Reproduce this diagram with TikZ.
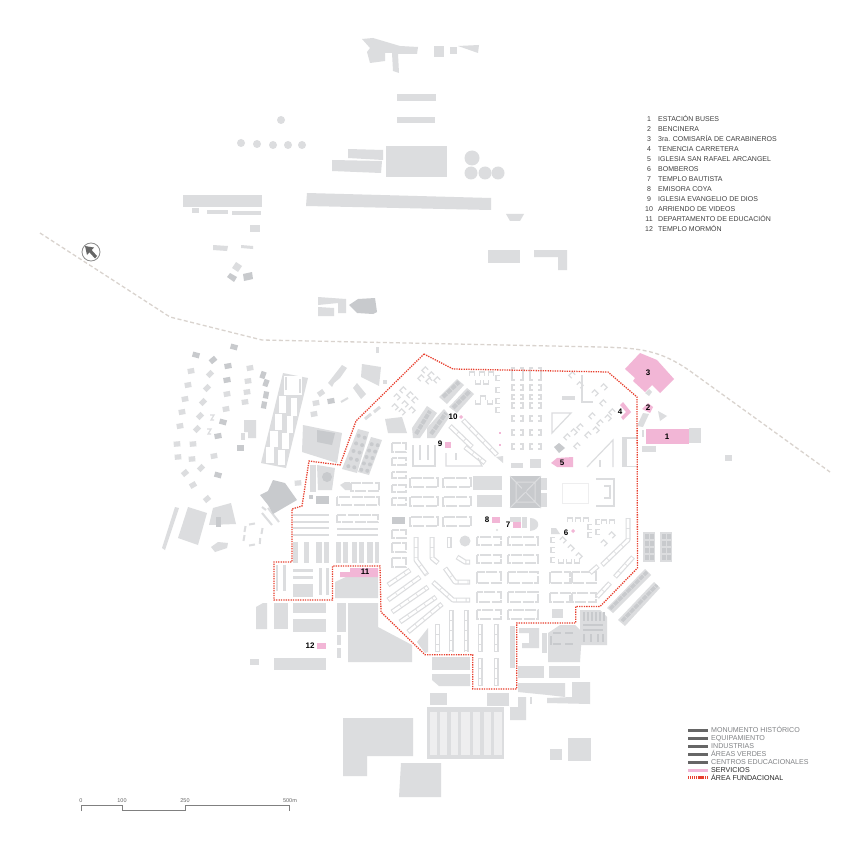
\documentclass[tikz,border=0pt]{standalone}
\usepackage{fontspec}
\usetikzlibrary{calc}
\setmainfont{Liberation Sans}
\definecolor{bldc}{HTML}{DCDDDF}
\definecolor{darkc}{HTML}{C8CACD}
\definecolor{ltc}{HTML}{EEEEEF}
\definecolor{pinkc}{HTML}{F2B6D6}
\definecolor{redc}{HTML}{E8402F}
\definecolor{trackc}{HTML}{D9D3CE}
\definecolor{leg}{HTML}{808285}
\tikzset{
  bld/.style={fill=bldc},
  drk/.style={fill=darkc},
  svc/.style={fill=pinkc},
  sa/.style={draw=bldc,line width=5pt,line join=round},
  sb/.style={draw=white,line width=2.6pt,line join=round,dash pattern=on 9pt off 0.9pt,shorten <=0.9pt,shorten >=0.9pt},
  blkst/.style={draw=bldc,line width=1.15pt,dash pattern=on 11pt off 1.4pt},
  ust/.style={draw=bldc,line width=1.2pt},
  boundary/.style={draw=redc,line width=1.3pt,dash pattern=on 1.3pt off 1.1pt},
  track/.style={draw=trackc,line width=1.3pt,dash pattern=on 4pt off 2.5pt},
  num/.style={font=\fontsize{8}{9}\selectfont\bfseries,text=black,inner sep=0pt},
  item/.style={font=\fontsize{7}{8}\selectfont,text=black!75,inner sep=0pt,anchor=base},
  legtxt/.style={font=\fontsize{7.1}{8}\selectfont,text=leg,inner sep=0pt,anchor=base west},
  legtxk/.style={font=\fontsize{7.1}{8}\selectfont,text=black!85,inner sep=0pt,anchor=base west},
  scl/.style={font=\fontsize{5.5}{6}\selectfont,text=black!60,inner sep=0pt},
}
\newcommand\stp[1]{\draw[sa] #1; \draw[sb] #1;}
\begin{document}
\begin{tikzpicture}[x=1pt,y=-1pt]
\useasboundingbox (0,0) rectangle (850,850);
\fill[white] (0,0) rectangle (850,850);
% railway
\coordinate (tr1) at (40,233);
\coordinate (tr2) at (170,317);
\coordinate (tr3) at (262,340);
\coordinate (tr4) at (640,348);
\coordinate (tr5) at (830,472);
\draw[track] (tr1) -- (tr2) -- (tr3) -- (600,347) .. controls (tr4) and (660,350) .. (690,371) -- (tr5);
% north arrow
\draw[draw=black!45,line width=0.8pt] (91,252) circle (9);
\fill[black!60] (85,246) -- (94,247.5) -- (91.6,250) -- (97,256) -- (95,258.5) -- (89.4,252.3) -- (87,255) -- cycle;
% top buildings
\fill[bld] (362,39)--(373,38)--(400,46)--(418,47)--(417,54)--(398,54)--(399,73)--(393,71)--(392,53)--(385,53)--(385,61)--(370,63)--(367,52)--(370,48)--cycle;
\foreach \a/\b/\c/\d in {434/46/444/57,450/47/457/54,397/94/436/101,397/117/435/123,386/146/447/177,183/195/262/207,192/208/199/213,207/210/228/214,232/211/261/215,250/225/260/232,488/250/520/263}
  \fill[bld] (\a,\b) rectangle (\c,\d);
\fill[bld] (458,46)--(479,45)--(478,53)--cycle;
\foreach \x/\y in {281/120,241/143,257/144,273/145,288/145,302/145}
  \fill[bld] (\x,\y) circle (4);
\foreach \x/\y/\r in {472/158/7.5,471/173/6.5,485/173/6.5,498/173/6.5}
  \fill[bld] (\x,\y) circle (\r);
\fill[bld] (348,149)--(383,150)--(383,160)--(348,158)--cycle;
\fill[bld] (332,160)--(382,161)--(381,173)--(332,171)--cycle;
\fill[bld] (307,193)--(491,198)--(491,210)--(306,206)--cycle;
\fill[bld] (213,245)--(228,246)--(227,251)--(213,250)--cycle;
\fill[bld] (241,245)--(253,246)--(253,249)--(241,248)--cycle;
\fill[bld] (232,268)--(236,262)--(242,266)--(238,272)--cycle;
\fill[drk] (227,277)--(230,273)--(237,277)--(234,282)--cycle;
\fill[drk] (243,274)--(252,272)--(253,279)--(244,281)--cycle;
\fill[bld] (318,297)--(346,299)--(346,313)--(338,313)--(338,303)--(318,305)--cycle;
\fill[bld] (318,307)--(334,308)--(334,316)--(318,316)--cycle;
\fill[drk] (349,305)--(358,299)--(375,298)--(377,312)--(373,314)--(357,313)--cycle;
\fill[bld] (506,214)--(524,214)--(520,221)--(510,221)--cycle;
\fill[bld] (534,250)--(567,250)--(567,270)--(558,270)--(558,257)--(534,257)--cycle;
\fill[bld] (376,347) rectangle (379,353);
% scattered houses, west
\foreach \x/\y/\r in {191/371/10,188/385/10,185/399/10,182/412/10,180/426/10,177/444/5,193/444/5,178/457/5,192/459/5,214/456/10,185/473/40,201/468/45,193/485/30,207/499/40,210/374/45,207/388/45,203/402/45,200/416/45,197/429/45,227/394/10,226/409/10,250/368/10,248/381/8,247/392/8,245/402/8,321/393/35,316/403/10,314/414/10,298/483/5}
  \fill[bld,rotate around={\r:(\x,\y)}] (\x-3.3,\y-2.6) rectangle (\x+3.3,\y+2.6);
\foreach \x/\y/\r in {234/347/-15,196/355/-15,213/360/40,228/366/10,227/380/10,223/422/-15,218/436/10,240/448/0,218/475/-15,263/375/70,266/383/70,266/395/80,264/405/80,331/401/10}
  \fill[drk,rotate around={\r:(\x,\y)}] (\x-3.5,\y-2.6) rectangle (\x+3.5,\y+2.6);
\fill[bld] (244,420)--(256,420)--(256,438)--(248,438)--(248,432)--(244,432)--cycle;
\fill[bld] (241,433) rectangle (245,440);
\draw[ust] (210,415)--(214,415)--(211,420)--(214,420);
\draw[ust] (207,429)--(211,429)--(208,434)--(211,434);
% lower west
\fill[bld] (175,507)--(179,508)--(165,550)--(162,548)--cycle;
\fill[bld] (188,507)--(207,513)--(198,545)--(178,538)--cycle;
\fill[bld] (213,508)--(231,503)--(236,524)--(209,525)--cycle;
\fill[drk] (216,517) rectangle (221,527);
\fill[bld] (211,547)--(218,542)--(228,543)--(227,548)--(215,552)--cycle;
\foreach \x/\y/\r in {252/524/10,262/531/80,260/541/85,252/545/10,244/538/80,245/529/80}
  \fill[bld,rotate around={\r:(\x,\y)}] (\x-3,\y-1) rectangle (\x+3,\y+1);
\draw[draw=bldc,line width=2pt] (262,513)--(272,525);
\draw[draw=bldc,line width=2pt] (268,508)--(279,522);
\draw[draw=bldc,line width=2pt] (262,507)--(266,510);
% big dark building
\fill[drk] (260,495)--(268,491)--(273,480)--(285,483)--(297,500)--(273,514)--(268,505)--cycle;
% grid building
\begin{scope}[shift={(283,373)},x={(25pt,-5pt)},y={(-22pt,-90pt)}]
  \fill[bld] (0,0)--(1,0)--(1,1)--(0,1)--cycle;
  \fill[white] (.06,.03) rectangle (.94,.19);
  \fill[bld] (.2,.03) rectangle (.25,.18);
  \fill[bld] (.75,.03) rectangle (.8,.18);
  \foreach \a/\b in {.25/.42,.45/.61,.64/.79,.82/.97}{
    \fill[white] (.06,\a) rectangle (.48,\b);
    \fill[white] (.54,\a) rectangle (.94,\b);
  }
\end{scope}
% mid-west buildings
\fill[bld] (303,425)--(342,433)--(337,463)--(302,452)--cycle;
\fill[drk] (317,430)--(335,433)--(332,445)--(317,442)--cycle;
\fill[bld] (358,429)--(369,432)--(357,473)--(342,469)--cycle;
\fill[bld] (371,437)--(382,440)--(369,475)--(358,472)--cycle;
\foreach \t in {.1,.3,.5,.7,.9}{
  \fill[darkc] ($(360,432)!\t!(347,470)$) circle (2);
  \fill[darkc] ($(366,434)!\t!(353,471)$) circle (2);
  \fill[darkc] ($(373,441)!\t!(360,473)$) circle (2);
  \fill[darkc] ($(379,442)!\t!(366,474)$) circle (2);
}
\fill[bld] (362,364)--(381,367)--(379,386)--(361,377)--cycle;
\fill[bld] (357,383)--(366,394)--(361,399)--(353,388)--cycle;
\fill[bld] (328,383)--(342,365)--(347,368)--(340,378)--(334,383)--(332,387)--cycle;
\fill[bld] (385,419)--(402,417)--(407,433)--(388,433)--cycle;
\fill[bld] (383,380) rectangle (387,384);
\draw[draw=bldc,line width=2pt] (341,402)--(348,398);
\draw[draw=bldc,line width=3pt] (365,419)--(371,414);
\draw[draw=bldc,line width=3pt] (374,412)--(380,407);
\fill[bld] (340,485)--(345,482)--(350,482)--(350,490)--(345,490)--cycle;
\fill[bld] (317,465)--(335,468)--(332,490)--(318,490)--cycle;
\fill[darkc] (327,477) circle (5);
\fill[bld] (310,465) rectangle (316,492);
\fill[drk] (316,496) rectangle (329,504);
\fill[drk] (309,495) rectangle (313,499);
% strips south of the dark building
\foreach \y in {515,522,528,535} \draw[draw=bldc,line width=1.5pt] (293,\y)--(329,\y);
\draw[blkst] (337,515) rectangle (378,522);
\foreach \y in {529,535} \draw[draw=bldc,line width=1.5pt] (337,\y)--(378,\y);
\foreach \a/\b in {293/298,304/309,316/322,324/329,336/341,343/348,352/357,359/364,367/373,375/379}
  \fill[bld] (\a,542) rectangle (\b,563);
% blocks, west rows
\foreach \a/\b in {351/483,337/497}
  \draw[blkst] (\a,\b) rectangle (379,\b+8);
\foreach \a/\b in {443/452,458/465,472/478,485/492,498/505,530/538,543/552,558/567}
  \draw[blkst] (392,\a) rectangle (406,\b);
\fill[drk] (392,517) rectangle (405,524);
% enclosed area
\foreach \a/\b in {276/278,283/286}
  \fill[bld] (\a,565) rectangle (\b,591);
\foreach \a/\b in {319/322,326/329}
  \fill[bld] (\a,568) rectangle (\b,595);
\fill[bld] (293,569) rectangle (313,572);
\fill[bld] (293,576) rectangle (313,579);
\fill[bld] (293,584) rectangle (313,597);
\fill[bld] (335,582)--(348,576)--(378,577)--(378,598)--(335,598)--cycle;
% south-west blocks
\fill[bld] (256,607)--(263,603)--(267,603)--(267,629)--(256,629)--cycle;
\foreach \a/\b/\c/\d in {274/603/288/629,293/603/326/613,293/619/326/632,337/603/346/632,337/635/341/645,337/648/341/658,274/658/326/670,250/659/259/665,432/657/470/670}
  \fill[bld] (\a,\b) rectangle (\c,\d);
\fill[bld] (348,603)--(378,603)--(378,627)--(412,645)--(412,662)--(348,662)--cycle;
\fill[bld] (417,642)--(428,628)--(428,652)--(425,653)--cycle;
\fill[bld] (432,674)--(470,674)--(470,686)--(439,686)--(432,680)--cycle;
% south
\fill[bld] (510,626) rectangle (515,668);
\fill[bld] (519,628)--(539,628)--(539,648)--(522,648)--(522,643)--(529,643)--(529,633)--(519,633)--cycle;
\fill[bld] (542,633) rectangle (547,653);
\fill[bld] (560,625)--(575,625)--(582,632)--(580,662)--(548,662)--(548,633)--cycle;
\foreach \x in {553,565} \fill[darkc] (\x,632) rectangle (\x+8,634);
\foreach \x in {553,565} \fill[darkc] (\x,643) rectangle (\x+8,645);
\fill[darkc] (550,636) rectangle (552,645);
\fill[bld] (580,610)--(600,610)--(607,617)--(607,645)--(580,645)--cycle;
\foreach \x in {583,587,591,595,599,603} \fill[darkc] (\x,612) rectangle (\x+2,621);
\foreach \y in {624,629} \fill[darkc] (583,\y) rectangle (603,\y+2);
\foreach \x in {583,590,597,602} \fill[darkc] (\x,634) rectangle (\x+2,642);
\foreach \a/\b/\c/\d in {518/666/544/678,549/666/580/678,430/693/447/705,487/693/509/706,552/609/563/618,530/697/532/704,550/749/562/760,568/738/591/761}
  \fill[bld] (\a,\b) rectangle (\c,\d);
\fill[bld] (518,683)--(565,683)--(565,697)--(548,695)--(518,692)--cycle;
\fill[bld] (547,698)--(572,697)--(572,682)--(590,682)--(590,704)--(547,703)--cycle;
\fill[bld] (518,697)--(526,697)--(526,720)--(510,720)--(510,707)--(518,707)--cycle;
\fill[bld] (427,707) rectangle (504,759);
\foreach \a/\b in {430/437,440/447,451/458,461/470,473/480,484/491,494/502}
  \fill[ltc] (\a,712) rectangle (\b,755);
\fill[bld] (343,718)--(413,718)--(413,756)--(367,756)--(367,776)--(343,776)--cycle;
\fill[bld] (401,763)--(441,763)--(441,797)--(399,797)--cycle;
% core: large solids
\fill[darkc] (510,476) rectangle (541,508);
\draw[draw=bldc,line width=1pt] (510,476)--(541,508) (541,476)--(510,508) (516,482) rectangle (535,502);
\fill[drk] (524,490) circle (2.5);
\foreach \a/\b/\c/\d in {541/478/547/490,541/493/547/507,473/476/502/490,477/495/502/507,511/463/523/468,530/459/541/468,510/517/521/522,522/517/527/528,562/396/575/400,642/430/644/437,642/446/656/452,725/455/732/461,689/428/701/443,552/609/563/618}
  \fill[bld] (\a,\b) rectangle (\c,\d);
\fill[drk] (554,447)--(559,443)--(565,448)--(559,453)--cycle;
\fill[bld] (496,457)--(503,456)--(503,463)--cycle;
\fill[bld] (465,541) circle (5.5);
\fill[bld] (530,518) .. controls (540,518) and (542,530) .. (530,531) -- cycle;
\fill[bld] (497,530) circle (1.2);
% dark diagonal blocks
\fill[bld] (439,397)--(457,379)--(464,385)--(447,404)--cycle;
\fill[bld] (449,407)--(467,388)--(474,394)--(457,413)--cycle;
\fill[bld] (412,428)--(427,406)--(437,413)--(420,438)--(413,438)--cycle;
\fill[bld] (427,428)--(444,409)--(450,416)--(435,438)--(427,438)--cycle;
\draw[draw=darkc,line width=4pt,dash pattern=on 5pt off 1pt] (443,397)--(459,382);
\draw[draw=darkc,line width=4pt,dash pattern=on 5pt off 1pt] (453,408)--(470,391);
\draw[draw=darkc,line width=4pt,dash pattern=on 5pt off 1pt] (416,434)--(430,411);
\draw[draw=darkc,line width=4pt,dash pattern=on 5pt off 1pt] (431,434)--(446,413);
% blocks outside, east and south-east
\fill[bld] (607,608)--(645,569)--(651,575)--(613,613)--cycle;
\fill[bld] (618,620)--(654,582)--(660,588)--(625,626)--cycle;
\draw[draw=darkc,line width=3.5pt,dash pattern=on 5pt off 1pt] (610,609)--(647,572);
\draw[draw=darkc,line width=3.5pt,dash pattern=on 5pt off 1pt] (622,621)--(657,585);
\foreach \x in {643,660}{
  \fill[bld] (\x,532) rectangle (\x+12,562);
  \foreach \y in {534,541,548,555}{
    \fill[darkc] (\x+1.5,\y) rectangle (\x+5.5,\y+5);
    \fill[darkc] (\x+6.5,\y) rectangle (\x+10.5,\y+5);
  }
}
\fill[bld] (643,413)--(649,414)--(643,427)--(637,426)--cycle;
\fill[bld] (658,411)--(667,416)--(660,421)--cycle;
\fill[bld] (649,389)--(652,392)--(649,396)--(645,393)--cycle;
% block rows centre-west
\foreach \y/\h in {478/9,497/9,517/9}{
  \draw[blkst] (410,\y) rectangle (438,\y+\h);
  \draw[blkst] (443,\y) rectangle (471,\y+\h);
}
% south rows
\foreach \y/\h in {537/8,555/8,572/11,592/10,610/9}{
  \draw[blkst] (477,\y) rectangle (501,\y+\h);
  \draw[blkst] (508,\y) rectangle (538,\y+\h);
}
\foreach \y/\h in {572/11,593/9}{
  \draw[blkst] (550,\y) rectangle (570,\y+\h);
  \draw[blkst] (572,\y) rectangle (596,\y+\h);
}
% vertical strips
\foreach \a/\b in {451/610,466/610,437.5/624,480/624,496/624}{
  \stp{(\a,\b)--(\a,652)}
}
\foreach \a in {480,496} {\stp{(\a,658)--(\a,686)}}
% diagonal strips
\stp{(388,585)--(410,570)}
\stp{(388,600)--(420,577)}
\stp{(392,612)--(428,587)}
\stp{(400,622)--(436,597)}
\stp{(408,632)--(442,604)}
\stp{(416,537)--(416,560)--(427,575)}
\stp{(432,537)--(432,558)--(438,563)}
\stp{(449,537)--(449,548)}
\stp{(445,568)--(455,582)--(470,582)}
\stp{(433,582)--(453,600)--(470,600)}
\stp{(457,557)--(465,562)--(470,562)}
\stp{(628,518)--(628,540)--(602,565)}
\stp{(633,557)--(615,577)}
\stp{(610,583)--(597,597)}
\stp{(590,573)--(598,566)}
% north-centre brackets
\foreach \y/\h in {368/12,385/5,395/4,403/5,416/5,430/5,444/5}{
  \draw[ust] (515,\y)--(512,\y)--(512,\y+\h)--(515,\y+\h);
  \draw[ust] (520,\y)--(523,\y)--(523,\y+\h)--(520,\y+\h);
  \draw[ust] (533,\y)--(530,\y)--(530,\y+\h)--(533,\y+\h);
  \draw[ust] (538,\y)--(541,\y)--(541,\y+\h)--(538,\y+\h);
}
% small U shapes
\foreach \x/\y/\r in {472/374/0,482/374/0,491/374/0,478/382/180,486/382/180,483/398/0,478/402/180,490/402/180,498/378/90,498/390/90,498/401/90,498/410/90,
  425/370/45,431/375/45,437/380/45,429/381/45,421/378/45,
  403/390/45,410/395/45,415/400/45,397/397/-45,405/404/-45,412/410/-45,395/407/-45,402/412/-45,
  567/437/45,577/446/45,588/435/45,580/427/45,600/423/45,592/416/45,612/412/45,603/403/45,574/432/-45,596/430/-45,608/418/-45,
  572/375/45,580/385/-45,595/393/-45,604/387/-45,
  570/520/0,578/520/0,586/520/0,590/527/90,590/535/90,
  598/522/90,598/532/90,604/522/0,612/522/0,604/543/-45,612/535/-45,
  553/540/90,553/550/90,553/560/90,561/561/180,569/561/180,577/561/180,
  563/540/-45,571/548/-45,579/556/-45}
  \draw[ust,rotate around={\r:(\x,\y)}] (\x-2.5,\y+2)--(\x-2.5,\y-2)--(\x+2.5,\y-2)--(\x+2.5,\y+2);
% west quarter combs
\stp{(463,420)--(497,455)}
\stp{(450,426)--(472,447)}
\stp{(465,447)--(485,463)}
\draw[ust] (413,445)--(413,466)--(435,466)--(435,445);
\draw[ust] (420,445)--(420,460);
\draw[ust] (428,445)--(428,460);
\draw[ust] (446,453)--(446,466)--(482,466)--(478,458);
\draw[ust] (456,453)--(456,460);
% triangles of blocks
\draw[ust] (552,413)--(571,413)--(552,433)--cycle;
\draw[ust] (587,467)--(613,440)--(613,467);
\draw[ust] (600,460)--(600,467);
\draw[ust] (582,375)--(582,402)--(593,402);
\fill[bld] (551,528)--(556,528)--(560,534)--(551,534)--cycle;
\draw[draw=bldc,line width=5pt] (624.5,437)--(624.5,467);
\draw[draw=bldc,line width=1.5pt] (622,438)--(637,438) (622,466.5)--(637,466.5);
\draw[draw=ltc,line width=0.6pt] (562,483) rectangle (588,503);
\draw[ust] (596,479)--(614,479)--(614,506)--(596,506);
\draw[ust] (604,486)--(610,486)--(610,498)--(604,498);
% services
\fill[svc] (640,353)--(657,360)--(674,379)--(660,393)--(652,385)--(645,392)--(633,381)--(635,378)--(625,369)--cycle;
\fill[svc] (646,429) rectangle (689,444);
\fill[svc] (648,403)--(653,407)--(650,413)--(642,409)--cycle;
\fill[svc] (620,405)--(623,402)--(631,412)--(623,420)--(621,417)--(626,412)--cycle;
\fill[svc] (551,463)--(557,458)--(573,457)--(573,467)--(557,467)--cycle;
\fill[svc] (445,442) rectangle (451,448);
\fill[svc] (461,415)--(463,417)--(461,419)--(459,417)--cycle;
\fill[svc] (492,517) rectangle (500,523);
\fill[svc] (513,522) rectangle (521,528);
\fill[svc] (573,529)--(575,531)--(573,533)--(571,531)--cycle;
\fill[svc] (340,572)--(350,572)--(350,568)--(378,568)--(378,577)--(340,577)--cycle;
\fill[svc] (317,643) rectangle (326,649);
\fill[svc] (499,432) rectangle (501,434);
\fill[svc] (499,444) rectangle (501,446);
% boundary
\coordinate (bd1) at (424,354);
\coordinate (bd2) at (453,369);
\coordinate (bd3) at (608,372);
\coordinate (bd4) at (637,397);
\coordinate (bd5) at (637.5,568);
\coordinate (bd6) at (600,606.5);
\coordinate (bd7) at (575.7,606.5);
\coordinate (bd8) at (575.7,623);
\coordinate (bd9) at (516.7,623);
\coordinate (bd10) at (516.7,689);
\coordinate (bd11) at (472.7,689);
\coordinate (bd12) at (472.7,654.7);
\coordinate (bd13) at (425,654.7);
\coordinate (bd14) at (381,612);
\coordinate (bd15) at (380,566);
\coordinate (bd16) at (332.5,566);
\coordinate (bd17) at (332.5,600);
\coordinate (bd18) at (274,600);
\coordinate (bd19) at (274,562);
\coordinate (bd20) at (292,562);
\coordinate (bd21) at (292,509);
\coordinate (bd22) at (302,506);
\coordinate (bd23) at (309,461);
\coordinate (bd24) at (340,465);
\coordinate (bd25) at (356,421);
\draw[boundary] (bd1)--(bd2)--(bd3)--(bd4)--(bd5)--(bd6)--(bd7)--(bd8)--(bd9)--(bd10)--(bd11)--(bd12)--(bd13)--(bd14)--(bd15)--(bd16)--(bd17)--(bd18)--(bd19)--(bd20)--(bd21)--(bd22)--(bd23)--(bd24)--(bd25)--cycle;
% map labels
\node[num] (n1) at (667,437) {1};
\node[num] (n2) at (648,408) {2};
\node[num] (n3) at (648,373) {3};
\node[num] (n4) at (620,412) {4};
\node[num] (n5) at (562,463) {5};
\node[num] (n6) at (566,533) {6};
\node[num] (n7) at (508,525) {7};
\node[num] (n8) at (487,520) {8};
\node[num] (n9) at (440,444) {9};
\node[num] (n10) at (453,417) {10};
\node[num] (n11) at (365,572) {11};
\node[num] (n12) at (310,646) {12};
% list
\foreach \i/\t [count=\c from 0] in {1/ESTACIÓN BUSES,2/BENCINERA,3/3ra. COMISARÍA DE CARABINEROS,4/TENENCIA CARRETERA,5/IGLESIA SAN RAFAEL ARCANGEL,6/BOMBEROS,7/TEMPLO BAUTISTA,8/EMISORA COYA,9/IGLESIA EVANGELIO DE DIOS,10/ARRIENDO DE VIDEOS,11/DEPARTAMENTO DE EDUCACIÓN,12/TEMPLO MORMÓN}{
  \node[item] (li\c) at (649,121.4+10*\c) {\i};
  \node[item,anchor=base west] (lt\c) at (658,121.4+10*\c) {\t};
}
% legend
\foreach \t/\y [count=\c] in {MONUMENTO HISTÓRICO/730.3,EQUIPAMIENTO/738.3,INDUSTRIAS/746.3,ÁREAS VERDES/754.5,CENTROS EDUCACIONALES/762.5}{
  \fill[black!60] (688,\y-1.6) rectangle (708,\y+1.6);
  \node[legtxt] (lg\c) at (711,\y+2.4) {\t};
}
\fill[pinkc] (688,768.5) rectangle (708,771.5);
\node[legtxk] (lgs) at (711,772.4) {SERVICIOS};
\draw[draw=redc,line width=3pt,dash pattern=on 1.2pt off 0.7pt] (688,777.7)--(708,777.7);
\node[legtxk] (lga) at (711,780.1) {ÁREA FUNDACIONAL};
% scale
\draw[draw=black!50,line width=0.6pt] (81,811)--(81,805)--(122.5,805)--(122.5,810.5)--(185,810.5)--(185,805)--(289,805)--(289,811);
\node[scl] (s0) at (81,800.7) {0};
\node[scl] (s1) at (122,800.7) {100};
\node[scl] (s2) at (185,800.7) {250};
\node[scl] (s3) at (290,800.7) {500m};
\end{tikzpicture}
\end{document}
